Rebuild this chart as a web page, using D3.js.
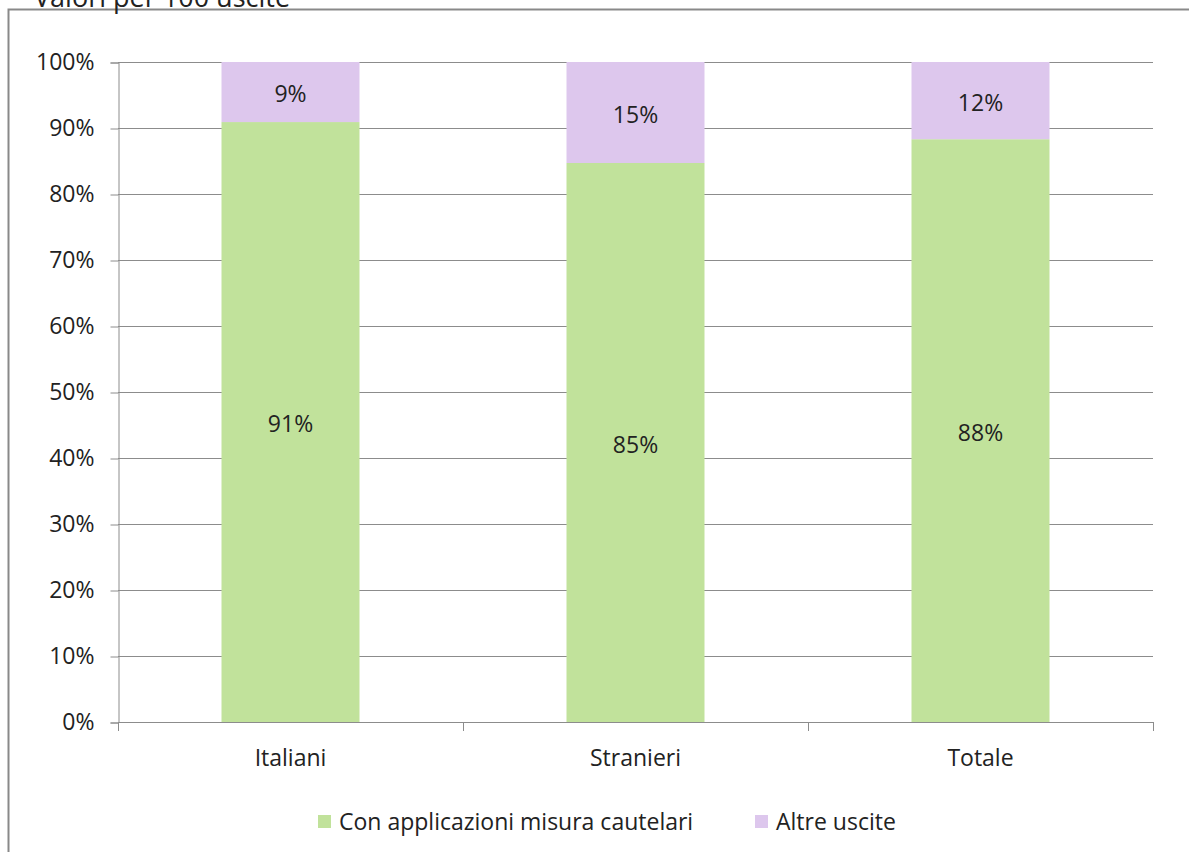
<!DOCTYPE html>
<html>
<head>
<meta charset="utf-8">
<script src="https://cdn.jsdelivr.net/npm/d3@7"></script>
<style>
  html, body { margin: 0; padding: 0; background: #fff; }
  svg { display: block; font-family: "Open Sans", "Noto Sans", sans-serif; }
</style>
</head>
<body>
<svg id="chart" width="1189" height="852"></svg>
<script>
const title = "Valori per 100 uscite";
const categories = ["Italiani", "Stranieri", "Totale"];
const seriesNames = ["Con applicazioni misura cautelari", "Altre uscite"];
const misureCautelari = [90.9, 84.7, 88.3];
const altreUscite = [9.1, 15.3, 11.7];
const yTicks = [0, 10, 20, 30, 40, 50, 60, 70, 80, 90, 100];
const colors = ["#C1E29B", "#DDC7ED"];

const svg = d3.select("#chart");
const textColor = "#222";
const gridColor = "#8c8c8c";
const fs = 23;

// chart frame
svg.append("rect")
  .attr("x", 8.5).attr("y", 9.5)
  .attr("width", 1300).attr("height", 1000)
  .attr("fill", "#fff").attr("stroke", "#898989").attr("stroke-width", 2);

// title (partly cut at top, as in the reference)
svg.append("text")
  .attr("x", 34).attr("y", 7)
  .attr("font-size", 27).attr("fill", textColor)
  .text(title);

const plotLeft = 118, plotRight = 1153, plotTop = 62, plotBottom = 722;

const x = d3.scaleBand().domain(categories).range([plotLeft, plotRight])
  .paddingInner(0.6).paddingOuter(0.3);
const y = d3.scaleLinear().domain([0, 100]).range([plotBottom, plotTop]);

// gridlines
svg.append("g").selectAll("line").data(yTicks).join("line")
  .attr("x1", plotLeft).attr("x2", plotRight)
  .attr("y1", d => Math.round(y(d)) + 0.5).attr("y2", d => Math.round(y(d)) + 0.5)
  .attr("stroke", gridColor).attr("stroke-width", 1);

// y axis
const yAxis = d3.axisLeft(y).tickValues(yTicks).tickFormat(d => d + "%")
  .tickSize(8).tickPadding(16);
const gy = svg.append("g").attr("transform", `translate(${plotLeft + 0.5},0.5)`).call(yAxis);
gy.select(".domain").attr("stroke", gridColor);
gy.selectAll(".tick line").attr("stroke", gridColor);
gy.selectAll(".tick text").attr("font-size", fs).attr("fill", textColor)
  .attr("font-family", "Open Sans, sans-serif");

// x axis (ticks at category boundaries)
const step = x.step();
const boundaries = d3.range(categories.length + 1).map(i => x.range()[0] + i * step);
svg.append("line")
  .attr("x1", plotLeft).attr("x2", plotRight)
  .attr("y1", plotBottom + 0.5).attr("y2", plotBottom + 0.5)
  .attr("stroke", gridColor);
svg.append("g").selectAll("line").data(boundaries).join("line")
  .attr("x1", d => Math.round(d) + 0.5).attr("x2", d => Math.round(d) + 0.5)
  .attr("y1", plotBottom).attr("y2", plotBottom + 9)
  .attr("stroke", gridColor);
svg.append("g").selectAll("text").data(categories).join("text")
  .attr("x", d => x(d) + x.bandwidth() / 2)
  .attr("y", 766)
  .attr("text-anchor", "middle")
  .attr("font-size", fs).attr("fill", textColor)
  .text(d => d);

// stacked bars
const rows = categories.map((c, i) => ({ cat: c, s0: misureCautelari[i], s1: altreUscite[i] }));
const stacked = d3.stack().keys(["s0", "s1"])(rows);

const layers = svg.append("g").selectAll("g").data(stacked).join("g")
  .attr("fill", (d, i) => colors[i]);
layers.selectAll("rect").data(d => d).join("rect")
  .attr("x", d => x(d.data.cat))
  .attr("width", x.bandwidth())
  .attr("y", d => y(Math.min(d[1], 100)))
  .attr("height", d => y(d[0]) - y(Math.min(d[1], 100)));

// data labels
svg.append("g").selectAll("g").data(stacked).join("g")
  .selectAll("text").data(d => d).join("text")
  .attr("x", d => x(d.data.cat) + x.bandwidth() / 2)
  .attr("y", d => (y(d[0]) + y(Math.min(d[1], 100))) / 2 + 2)
  .attr("dy", "0.35em")
  .attr("text-anchor", "middle")
  .attr("font-size", fs).attr("fill", textColor)
  .text(d => d3.format(".0f")(d[1] - d[0]) + "%");

// legend
const legendItems = [{ name: seriesNames[0], color: colors[0], x: 318 }, { name: seriesNames[1], color: colors[1], x: 755 }];
const lg = svg.append("g").selectAll("g").data(legendItems).join("g")
  .attr("transform", d => `translate(${d.x},815)`);
lg.append("rect").attr("width", 13).attr("height", 13).attr("fill", d => d.color);
lg.append("text").attr("x", 21).attr("y", 7).attr("dy", "0.35em")
  .attr("font-size", fs).attr("fill", textColor)
  .text(d => d.name);
</script>
</body>
</html>
